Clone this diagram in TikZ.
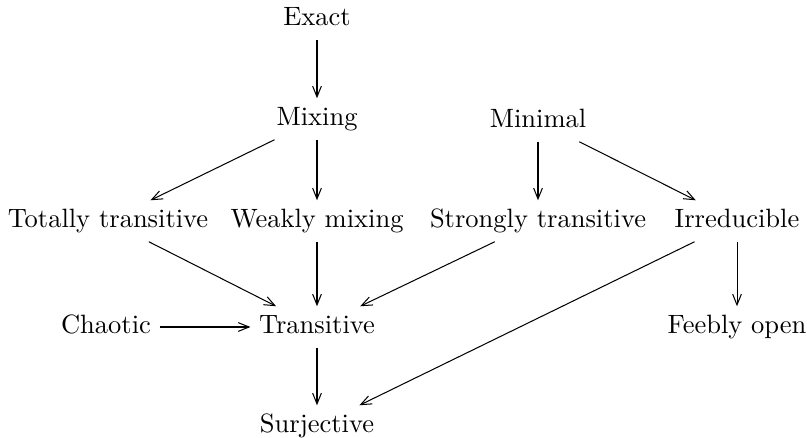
\documentclass[tikz,border=0pt]{standalone}
\usetikzlibrary{arrows.meta}
\begin{document}
\begin{tikzpicture}[x=0.3906pt,y=-0.3906pt,
  lbl/.style={inner sep=3.2pt,text height=7.1pt,text depth=2.3pt,font=\fontsize{10.35pt}{12pt}\selectfont},
  arr/.style={-{Straight Barb[length=4.2pt,width=3.4pt]},line width=0.4pt}]
\useasboundingbox (0,0) rectangle (807,438);
\node[lbl] (exact) at (317,19) {Exact};
\node[lbl] (mixing) at (317,119) {Mixing};
\node[lbl] (minimal) at (538,121) {Minimal};
\node[lbl] (tt) at (108,221) {Totally transitive};
\node[lbl] (wm) at (317,221) {Weakly mixing};
\node[lbl] (st) at (538,221) {Strongly transitive};
\node[lbl] (irr) at (737,221) {Irreducible};
\node[lbl] (chaotic) at (106,327) {Chaotic};
\node[lbl] (trans) at (317,327) {Transitive};
\node[lbl] (feebly) at (737,327) {Feebly open};
\node[lbl] (surj) at (317,426) {Surjective};
\draw[arr] (exact) -- (mixing);
\draw[arr] (mixing) -- (tt);
\draw[arr] (mixing) -- (wm);
\draw[arr] (minimal) -- (st);
\draw[arr] (minimal) -- (irr);
\draw[arr] (tt) -- (trans);
\draw[arr] (wm) -- (trans);
\draw[arr] (st) -- (trans);
\draw[arr] (chaotic) -- (trans);
\draw[arr] (trans) -- (surj);
\draw[arr] (irr) -- (surj);
\draw[arr] (irr) -- (feebly);
\end{tikzpicture}
\end{document}
